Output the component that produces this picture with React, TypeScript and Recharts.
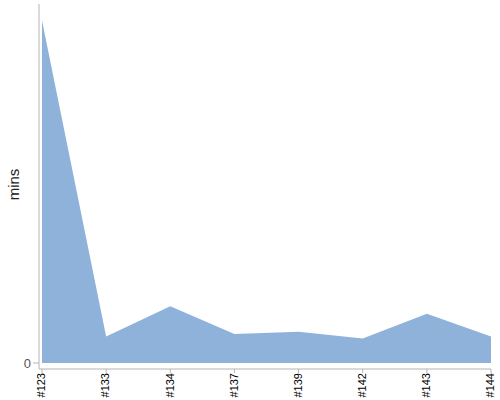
import { Area, AreaChart, XAxis, YAxis } from 'recharts';

const builds = ['#123', '#133', '#134', '#137', '#139', '#142', '#143', '#144'];
const minutes = [95.4, 7.4, 15.8, 8.1, 8.7, 6.8, 13.7, 7.4];
const yTicks = [0];

const data = builds.map((name, i) => ({ name, mins: minutes[i] }));

const axisGrey = '#b4b4b4';
const font = 'Arial, "Liberation Sans", sans-serif';

function BuildTick(props: any) {
  const { x, y, payload } = props;
  return (
    <text
      x={x}
      y={y}
      dy="0.3em"
      transform={`rotate(-90, ${x}, ${y})`}
      textAnchor="end"
      fontSize={11}
      fontFamily={font}
      fill="#000"
    >
      {payload.value}
    </text>
  );
}

function MinsLabel(props: any) {
  const { viewBox } = props;
  const x = viewBox.x + 14;
  const y = viewBox.y + viewBox.height / 2 - 2;
  return (
    <text
      x={x}
      y={y}
      dy="0.35em"
      transform={`rotate(-90, ${x}, ${y})`}
      textAnchor="middle"
      fontSize={15}
      fontFamily={font}
      fill="#222"
    >
      mins
    </text>
  );
}

export default function App() {
  return (
    <div style={{ position: 'absolute', left: 0, top: 0, width: 500, height: 400 }}>
      <AreaChart width={500} height={400} data={data} margin={{ top: 4, right: 9, bottom: 0, left: 0 }}>
        <XAxis
          dataKey="name"
          scale="point"
          padding={{ left: 3, right: 0 }}
          height={31}
          interval={0}
          tickSize={4}
          tickMargin={0}
          stroke={axisGrey}
          tick={<BuildTick />}
        />
        <YAxis
          width={39}
          domain={[0, 100]}
          ticks={yTicks}
          padding={{ top: 0, bottom: 6 }}
          tickSize={6}
          tickMargin={2}
          stroke={axisGrey}
          tick={{ fill: '#555', fontSize: 13, fontFamily: font }}
          label={<MinsLabel />}
        />
        <Area
          type="linear"
          dataKey="mins"
          stroke="none"
          fill="#8fb2db"
          fillOpacity={1}
          isAnimationActive={false}
        />
      </AreaChart>
    </div>
  );
}
